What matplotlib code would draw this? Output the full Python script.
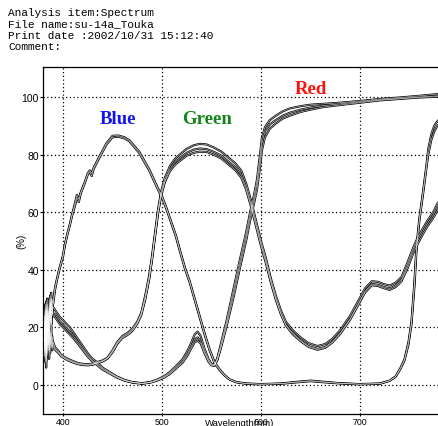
import matplotlib
matplotlib.use('Agg')
import matplotlib.pyplot as plt

# ---- scanned spectrum: transmission (%) vs wavelength (nm) ----
header = ['Analysis item:Spectrum',
          'File name:su-14a_Touka',
          'Print date :2002/10/31 15:12:40',
          'Comment:']

x_ticks = [400, 500, 600, 700]
y_ticks = [0, 20, 40, 60, 80, 100]

# blue filter (two replicates)
wl_blue = [381, 382, 383, 384, 385, 386, 387, 388, 389, 390, 392, 394, 396, 398, 400,
           402, 404, 407, 409, 412, 414, 416, 418, 422, 425, 427, 429, 431, 437, 444,
           450, 456, 462, 467, 472, 477, 482, 487, 491, 495, 500, 504, 509, 514, 518,
           523, 528, 533, 538, 543, 548, 553, 558, 563, 568, 575, 585, 600, 620, 640,
           650, 660, 680, 700, 720, 730, 736, 741, 745, 749, 752, 755, 757, 760, 764,
           767, 769, 772, 775, 779]
blue_1 = [18, 26, 12, 28, 15, 30, 20, 32, 24, 29, 34, 37, 40, 42.5, 45,
          49, 52, 56, 59, 63, 66, 64.5, 67, 70.5, 73.5, 74.5, 73.5, 75.5, 79.5, 84,
          86.5, 86.6, 86, 85, 83, 81, 78, 75, 72, 69, 65.5, 62, 57, 52, 47,
          41, 36, 30, 24, 18, 12.5, 8, 5.5, 3.5, 2, 1, 0.5, 0.3, 0.5, 1.2,
          1.5, 1.2, 0.6, 0.3, 0.5, 1.5, 3, 6, 9, 15, 22, 36, 48, 58, 68,
          76, 82, 87, 90, 92]
blue_2 = [22, 14, 27, 10, 25, 17, 29, 21, 30, 28, 33, 36.5, 39.5, 42, 44.5,
          48.5, 51.5, 55.5, 58.5, 62, 65, 63.5, 66.5, 70, 73, 74, 72.5, 75, 79, 83.5,
          86, 86.2, 85.6, 84.6, 82.6, 80.5, 77.5, 74.5, 71.5, 68.5, 65, 61.5, 56.5, 51.5, 46.5,
          40.5, 35.5, 29.5, 23.5, 17.5, 12, 7.6, 5.2, 3.3, 1.9, 0.9, 0.4, 0.2, 0.4, 1.0,
          1.3, 1.0, 0.5, 0.2, 0.4, 1.4, 2.8, 5.6, 8.5, 14, 21, 34, 46, 57, 67,
          75, 80, 85, 88, 90.5]

# green filter (three replicates)
wl_green = [381, 382, 383, 384, 385, 386, 387, 388, 389, 390, 392, 395, 398, 401, 405,
            410, 415, 420, 425, 430, 435, 440, 445, 450, 455, 460, 465, 470, 475, 479,
            483, 487, 490, 493, 496, 499, 503, 508, 513, 518, 525, 532, 538, 545, 552,
            560, 567, 574, 580, 585, 590, 595, 600, 605, 610, 615, 620, 625, 632, 640,
            648, 657, 665, 672, 680, 690, 698, 705, 712, 718, 724, 730, 736, 742, 748,
            753, 758, 763, 768, 774, 779]
green_1 = [10, 22, 6, 25, 12, 20, 14, 18, 12, 15, 13, 12, 10.5, 9.8, 9,
           8.3, 7.6, 7.3, 7.2, 7.4, 8, 8.5, 9.5, 12, 15, 17, 18, 19.5, 22, 25,
           31, 38, 45, 53, 61, 67, 72, 76, 78.5, 80, 82, 83.2, 83.7, 83.5, 82.5,
           81, 79, 77, 74.5, 70, 64, 57, 50, 44, 37, 31, 26, 22, 19, 16.5,
           14.5, 13.5, 14.2, 16, 19, 24, 29, 33.5, 36, 35.8, 35, 34.5, 35.5, 37.5, 42.5,
           47, 51, 54, 57, 60, 63.5]
green_2 = [16, 8, 21, 11, 24, 9, 19, 13, 17, 14, 12.5, 11.5, 10.2, 9.5, 8.7,
           8.0, 7.4, 7.1, 7.0, 7.2, 7.8, 8.3, 9.3, 11.6, 14.6, 16.6, 17.6, 19, 21.5, 24.5,
           30, 37, 44, 52, 60, 66, 71, 75, 77.3, 78.8, 80.6, 81.7, 82.1, 81.9, 81,
           79.6, 77.6, 75.6, 73, 68.6, 62.6, 55.8, 49, 43, 36, 30, 25, 21, 18, 15.5,
           13.5, 12.5, 13.2, 15, 18, 23, 28, 32.5, 35, 34.8, 34, 33.5, 34.5, 36.5, 41.5,
           46, 50, 53, 56, 59, 62.5]
green_3 = [12, 19, 9, 22, 14, 17, 11, 20, 15, 13, 12.2, 11.2, 10, 9.3, 8.5,
           7.8, 7.2, 6.9, 6.8, 7.0, 7.6, 8.1, 9.1, 11.3, 14.3, 16.3, 17.3, 18.7, 21.2, 24.2,
           29.5, 36.5, 43.5, 51.5, 59.5, 65.5, 70.5, 74.2, 76.4, 77.8, 79.6, 80.6, 81, 80.9, 80,
           78.6, 76.6, 74.6, 72, 67.8, 61.8, 55, 48.2, 42.2, 35.4, 29.5, 24.6, 20.7, 17.6, 15.2,
           13.2, 12.2, 12.9, 14.7, 17.7, 22.6, 27.6, 32, 34.6, 34.4, 33.6, 33, 34, 36, 40.5,
           45, 48.8, 52, 55, 58, 61]

# red filter (three replicates)
wl_red = [381, 382, 383, 384, 385, 386, 387, 388, 389, 390, 392, 394, 397, 400, 404,
          407, 411, 415, 420, 425, 430, 434, 440, 447, 454, 462, 470, 480, 488, 495,
          502, 508, 514, 521, 526, 530, 533, 536, 539, 543, 547, 550, 553, 556, 560,
          565, 572, 579, 585, 589, 593, 596, 599, 601, 604, 609, 615, 622, 629, 640,
          650, 663, 680, 700, 720, 740, 760, 779]
red_1 = [15, 28, 8, 30, 18, 27, 22, 30, 25, 27, 26, 25, 23.5, 22.5, 21,
         20, 18, 16, 13.5, 11, 9, 8, 6, 4.5, 3, 1.8, 1.0, 0.6, 1.0, 1.8,
         3, 4.5, 6.5, 9, 12, 15, 17.5, 18.5, 17, 12.5, 9, 7.3, 7, 9.5, 15,
         22, 33, 44, 53, 60, 66, 71.5, 80, 86, 89.5, 92, 93.5, 95, 96, 96.8,
         97.3, 97.6, 98, 98.6, 99.3, 99.8, 100.4, 101]
red_2 = [24, 11, 29, 13, 26, 16, 31, 19, 28, 25, 24.5, 23.5, 22, 21, 19.5,
         18.5, 16.8, 15, 12.6, 10.3, 8.4, 7.4, 5.6, 4.2, 2.8, 1.6, 0.9, 0.5, 0.9, 1.6,
         2.7, 4.1, 6, 8.3, 11, 13.8, 15.8, 16.5, 15.3, 11.5, 8.4, 7, 6.8, 9, 14,
         21, 31.5, 42.5, 51.5, 58.5, 64.5, 70, 78, 84, 88, 90.5, 92, 93.5, 94.5, 95.6,
         96.3, 97, 97.6, 98.3, 99, 99.5, 100, 100.4]
red_3 = [20, 13, 26, 17, 23, 12, 28, 21, 26, 24, 23.5, 22.5, 21, 20, 18.5,
         17.5, 16, 14.3, 12, 9.8, 8, 7, 5.3, 4, 2.6, 1.5, 0.8, 0.4, 0.8, 1.5,
         2.5, 3.8, 5.6, 7.8, 10.3, 13, 14.8, 15.4, 14.4, 11, 8, 6.8, 6.6, 8.6, 13.4,
         20, 30, 41, 50, 57, 63, 68, 75.5, 81.5, 86, 89, 90.8, 92.5, 93.5, 94.8,
         95.6, 96.5, 97.2, 98, 98.8, 99.3, 99.8, 100.1]

labels = [('Blue', 456, 92.4, '#1414f0'), ('Green', 546, 92.4, '#13861a'), ('Red', 650, 103.0, '#ff1010')]

fig = plt.figure(figsize=(4.38, 4.27), dpi=100)
ax = fig.add_axes([43 / 438, 12 / 427, 395 / 438, 347 / 427])

groups = [(wl_blue, [blue_1, blue_2]),
          (wl_green, [green_1, green_2, green_3]),
          (wl_red, [red_1, red_2, red_3])]
# scanned traces look like hollow double lines: black stroke, thin white core
for wl, reps in groups:
    for r in reps:
        ax.plot(wl, r, color='k', lw=1.5, zorder=3, solid_capstyle='butt')
    for r in reps:
        ax.plot(wl, r, color='white', lw=0.45, zorder=4, alpha=0.8)

ax.set_xlim(379.8, 778.8)
ax.set_ylim(-10.1, 110.4)
ax.set_xticks(x_ticks)
ax.set_yticks(y_ticks)
ax.grid(True, color='k', linestyle=(0, (1, 2)), lw=0.9)
ax.set_axisbelow(True)
ax.spines['right'].set_visible(False)
for s in ['left', 'bottom', 'top']:
    ax.spines[s].set_linewidth(0.9)
ax.tick_params(direction='out', length=2, width=0.8, pad=1, labelsize=7.5)
ax.tick_params(axis='x', labelsize=6.3, pad=0.5, length=1.5)
for t in ax.get_xticklabels() + ax.get_yticklabels():
    t.set_family('Liberation Sans')

for txt, x, y, c in labels:
    ax.text(x, y, txt, color=c, fontsize=13.5, fontweight='bold', family='Liberation Serif',
            ha='center', va='center', zorder=5)

for i, line in enumerate(header):
    fig.text(8 / 438, 1 - (13 + 11.5 * i) / 427, line, family='Liberation Mono',
             fontsize=8, va='center', ha='left')

fig.text(21 / 438, 1 - 241 / 427, '(%)', rotation=90, fontsize=7,
         family='Liberation Sans', ha='center', va='center')
fig.text(240 / 438, 1 - 419 / 427, 'Wavelength(nm)', fontsize=6.8,
         family='Liberation Sans', ha='center', va='top')

fig.savefig('out.png', dpi=100)
